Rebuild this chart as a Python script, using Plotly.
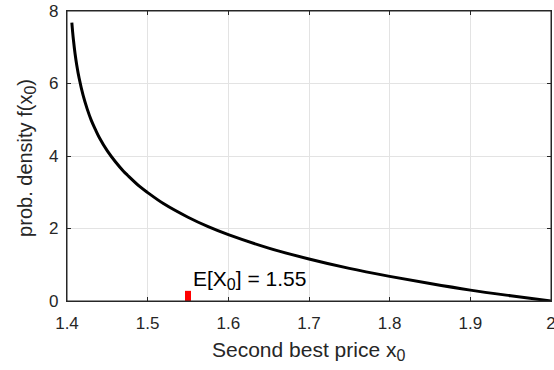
import plotly.graph_objects as go

# Density curve of the second best price
x_vals = [1.406, 1.407, 1.408, 1.41, 1.412, 1.415, 1.42, 1.425, 1.43, 1.435, 1.44, 1.45,
          1.46, 1.47, 1.475, 1.49, 1.5, 1.52, 1.55, 1.575, 1.6, 1.65, 1.7, 1.75, 1.8,
          1.85, 1.9, 1.95, 2.0]
y_vals = [7.68, 7.42, 7.20, 6.82, 6.52, 6.15, 5.67, 5.30, 4.99, 4.74, 4.51, 4.14,
          3.84, 3.58, 3.47, 3.16, 2.99, 2.68, 2.31, 2.05, 1.83, 1.46, 1.16, 0.90, 0.68,
          0.48, 0.30, 0.145, 0.0]

# Expected value marker
mean_x = [1.55, 1.55]
mean_y = [0.0, 0.28]

SUB0 = '<sub><span style="font-size:16px">0</span></sub>'
mean_label = "E[X" + SUB0 + "] = 1.55"
x_title = "Second best price x" + SUB0
y_title = "prob. density f(x" + SUB0 + ")"

x_ticks = [1.4, 1.5, 1.6, 1.7, 1.8, 1.9, 2.0]
x_ticktext = ["1.4", "1.5", "1.6", "1.7", "1.8", "1.9", "2"]
y_ticks = [0, 2, 4, 6, 8]
y_ticktext = ["0", "2", "4", "6", "8"]

FONT = "Liberation Sans, Arial, Helvetica, sans-serif"
AXC = "#262626"

fig = go.Figure()
fig.add_trace(go.Scatter(x=x_vals, y=y_vals, mode="lines", line=dict(color="black", width=3, shape="spline"),
                         showlegend=False, hoverinfo="skip"))
fig.add_trace(go.Scatter(x=mean_x, y=mean_y, mode="lines", line=dict(color="#ff0000", width=6),
                         showlegend=False, hoverinfo="skip"))

fig.add_annotation(x=mean_x[0], y=mean_y[1], xref="x", yref="y", text=mean_label, showarrow=False,
                   xanchor="left", yanchor="bottom", xshift=3, yshift=-4,
                   font=dict(family=FONT, size=21, color="black"))

# Axis titles as annotations for exact placement
fig.add_annotation(x=0.499, y=-0.172, xref="paper", yref="paper", text=x_title,
                   showarrow=False, xanchor="center", yanchor="middle",
                   font=dict(family=FONT, size=21, color=AXC))
fig.add_annotation(x=-0.085, y=0.493, xref="paper", yref="paper", text=y_title,
                   showarrow=False, xanchor="center", yanchor="middle", textangle=-90,
                   font=dict(family=FONT, size=20, color=AXC))

# box around the axes (MATLAB "box on")
fig.add_shape(type="rect", xref="paper", yref="paper", x0=0, x1=1, y0=0, y1=1,
              line=dict(color=AXC, width=1), layer="above")

axis_common = dict(showline=True, linecolor=AXC, linewidth=1.2, mirror="ticks", ticks="inside",
                   ticklen=4, tickcolor=AXC, showgrid=True, gridcolor="#e3e3e3", gridwidth=1,
                   zeroline=False, automargin=False, ticklabeloverflow="allow",
                   tickfont=dict(family=FONT, size=17, color=AXC))

fig.update_xaxes(range=[1.4, 2.0], tickvals=x_ticks, ticktext=x_ticktext, ticklabelstandoff=6, **axis_common)
fig.update_yaxes(range=[0, 8], tickvals=y_ticks, ticktext=y_ticktext, ticklabelstandoff=4, **axis_common)

fig.update_layout(width=554, height=370, margin=dict(l=67, r=3, t=11, b=69),
                  plot_bgcolor="white", paper_bgcolor="white")

# remove the default page margin so the figure sits at the window's top-left corner
fig.write_html("out.html", config={"displayModeBar": False},
               post_script="document.body.style.margin='0';document.body.style.overflow='hidden';")
